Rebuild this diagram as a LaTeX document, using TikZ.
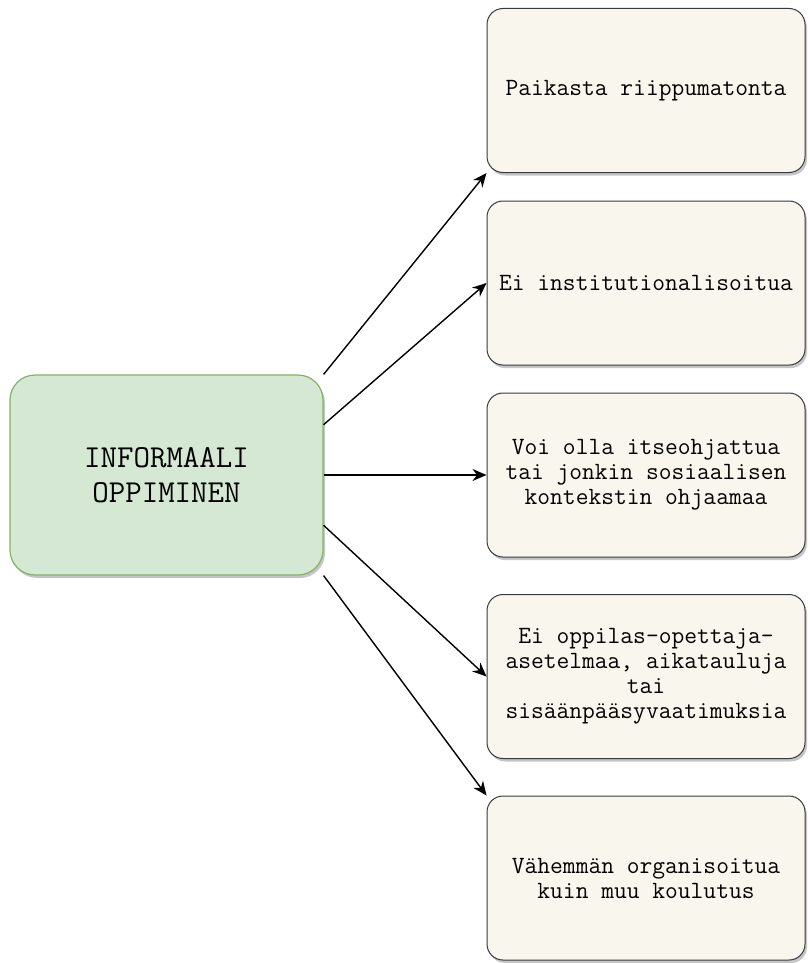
\documentclass[tikz,border=0pt]{standalone}
\usepackage{xcolor}
\usetikzlibrary{arrows.meta,shadows,calc}

\definecolor{infofill}{HTML}{D5E8D4}
\definecolor{infoline}{HTML}{82B366}
\definecolor{notefill}{HTML}{F9F7ED}
\definecolor{noteline}{HTML}{36393D}

\tikzset{
  infobox/.style={draw=infoline, fill=infofill, line width=0.6pt, rounded corners=12.5pt,
    minimum width=156.5pt, minimum height=100pt, align=center,
    font=\ttfamily\fontsize{16}{17.5}\selectfont,
    drop shadow={shadow xshift=1pt, shadow yshift=-1.5pt, fill=black!45, opacity=0.5}},
  notebox/.style={draw=noteline, fill=notefill, line width=0.5pt, rounded corners=8pt,
    minimum width=159pt, minimum height=82pt, align=center,
    font=\ttfamily\fontsize{12.4}{12.5}\selectfont,
    drop shadow={shadow xshift=1pt, shadow yshift=-1.5pt, fill=black!45, opacity=0.5}},
  arr/.style={-{Stealth[length=7pt,width=6pt]}, line width=0.7pt, black}
}

\begin{document}
\begin{tikzpicture}[x=0.5pt, y=-0.5pt]
            \useasboundingbox (0,0) rectangle (809,963);

            % Keskimmainen laatikko
            \node[infobox] (info) at (166.5,475) {INFORMAALI\\OPPIMINEN};

            % Ominaisuudet oikealla
            \node[notebox] (paikka) at (646,90.5) {Paikasta riippumatonta};
            \node[notebox] (instit) at (646,283) {Ei institutionalisoitua};
            \node[notebox] (ohjaus) at (646,475) {Voi olla itseohjattua\\tai jonkin sosiaalisen\\kontekstin ohjaamaa};
            \node[notebox] (asetelma) at (646,676.5) {Ei oppilas-opettaja-\\asetelmaa, aikatauluja\\tai\\sisäänpääsyvaatimuksia};
            \node[notebox] (organis) at (646,878) {Vähemmän organisoitua\\kuin muu koulutus};

            % Nuolet
            \draw[arr] (info.north east) -- (paikka.south west);
            \draw[arr] ($(info.north east)!0.25!(info.south east)$) -- (instit.west);
            \draw[arr] (info.east) -- (ohjaus.west);
            \draw[arr] ($(info.north east)!0.75!(info.south east)$) -- (asetelma.west);
            \draw[arr] (info.south east) -- (organis.north west);
        \end{tikzpicture}
\end{document}
